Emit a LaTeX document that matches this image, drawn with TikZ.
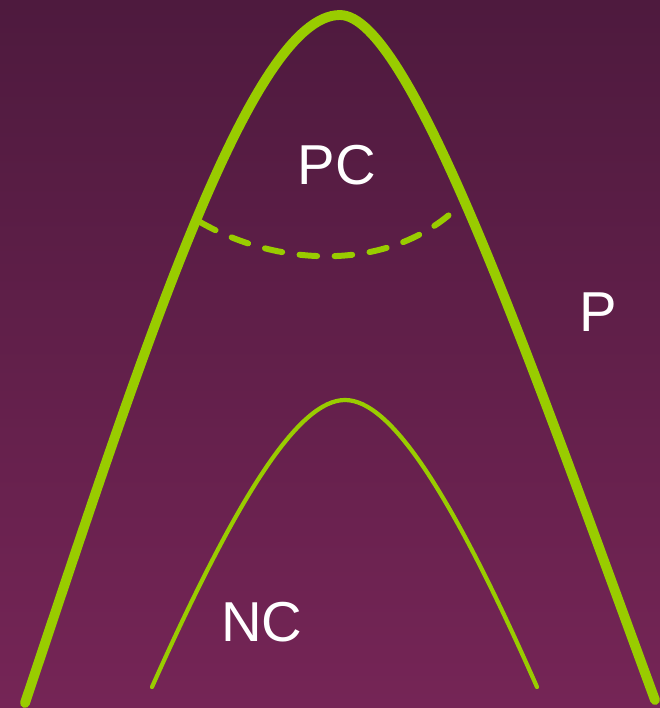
\documentclass[tikz,border=0pt]{standalone}
\usepackage{fontspec}
\setmainfont{Liberation Sans}
\usepackage{tikz}
\usetikzlibrary{positioning}
\definecolor{bgtop}{HTML}{4E1A3E}
\definecolor{bgbot}{HTML}{752556}
\definecolor{lime}{HTML}{99CC00}
\tikzset{
  lbl/.style={text=white, font=\fontsize{16}{19}\selectfont},
  outer/.style={draw=lime, line width=2.8pt, line cap=round},
  inner/.style={draw=lime, line width=1.2pt, line cap=round},
  border/.style={draw=lime, line width=1.7pt, line cap=round, dash pattern=on 5pt off 5pt}
}

\begin{document}
\begin{tikzpicture}[x=0.01cm, y=-0.01cm]
\shade[top color=bgtop, bottom color=bgbot] (0,0) rectangle (660,708);
\useasboundingbox (0,0) rectangle (660,708);
\draw[outer] (25,703) .. controls (140,360) and (250,15) .. (340,15);
\draw[outer] (340,15) .. controls (410,15) and (530,360) .. (655,700);
\draw[inner] (152,687) .. controls (240,490) and (300,400) .. (345,400);
\draw[inner] (345,400) .. controls (390,400) and (450,490) .. (537,687);
\draw[border] (200,222) .. controls (280,268) and (390,272) .. (458,207);
\node[lbl] (pc) at (337,165) {PC};
\node[lbl] (p) at (598,312) {P};
\node[lbl] (nc) at (262,622) {NC};
\end{tikzpicture}
\end{document}
